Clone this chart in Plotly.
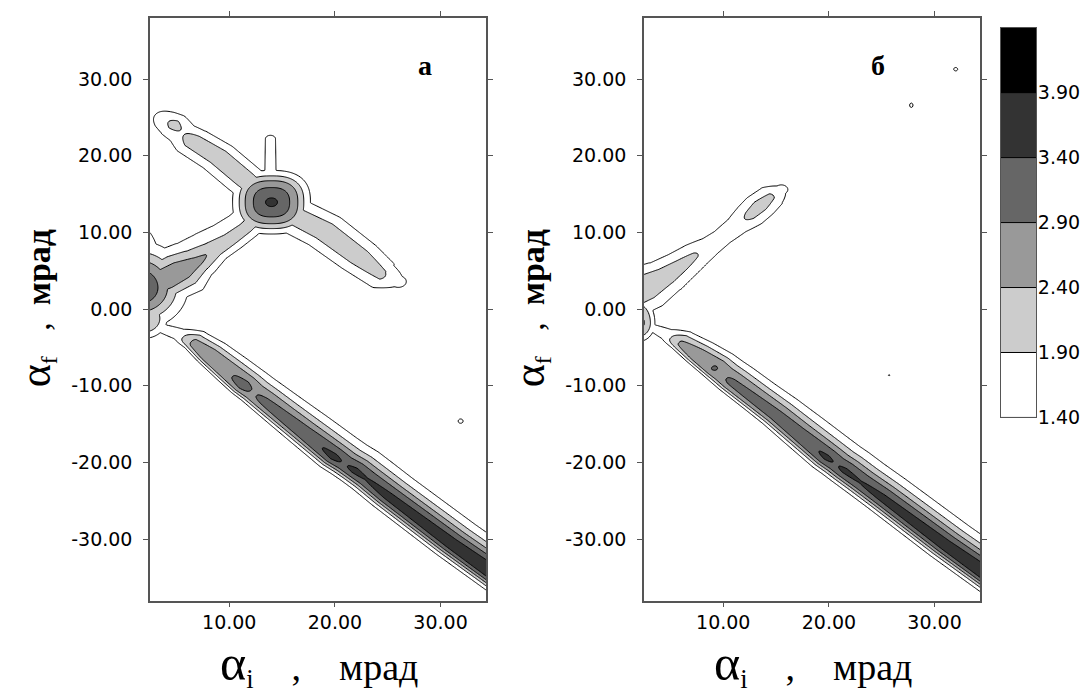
import numpy as np
import plotly.graph_objects as go

FIG_W, FIG_H = 1092, 698

# ---------------- levels / colours ----------------
LEVELS = [1.40, 1.90, 2.40, 2.90, 3.40, 3.90]
LEVEL_STEP = 0.50
BAND_GRAYS = ["#ffffff", "#ffffff", "#cccccc", "#999999", "#666666", "#333333", "#000000"]
BASE_LEVEL = 1.0
CBAR_TOP = 4.40

X_RANGE = [2.5, 34.3]
Y_RANGE = [-38.0, 38.0]
X_TICKS = [10, 20, 30]
Y_TICKS = [-30, -20, -10, 0, 10, 20, 30]
PANEL_LETTERS = ["а", "б"]
X_TITLE = ["α", "i", "мрад"]
Y_TITLE = ["α", "f", "мрад"]

# ---------------- main (specular) ridge, shared cross-section widths (18 nodes) ----------------
MAIN_S_UP = [1.1, 1.2, 1.5, 1.8, 1.98, 2.05, 2.1, 2.12, 2.18, 2.24, 2.29, 2.3, 2.3, 2.3, 2.31, 2.32, 2.33, 2.33]
MAIN_P_UP = [2.2, 2.2, 2.2, 2.2, 2.18, 2.1, 2.05, 2.0, 1.9, 1.8, 1.76, 1.76, 1.76, 1.78, 1.8, 1.8, 1.8, 1.8]
MAIN_S_LO = [0.9, 0.9, 1.0, 1.2, 1.34, 1.37, 1.38, 1.4, 1.42, 1.45, 1.47, 1.47, 1.48, 1.5, 1.52, 1.55, 1.58, 1.6]
MAIN_P_LO = [3.0, 3.0, 3.5, 3.8, 3.8, 3.6, 3.5, 3.3, 3.0, 2.8, 2.6, 2.6, 2.6, 2.6, 2.6, 2.6, 2.6, 2.6]

# panel а
A_MAIN_X = [3.6, 5.2, 6.6, 8.0, 10.0, 11.4, 12.3, 13.3, 15.0, 17.0, 19.9, 20.9, 21.9, 23.0, 25.0, 28.0, 31.0, 36.0]
A_MAIN_Y = [-2.5, -3.3, -4.3, -5.9, -8.2, -9.85, -10.8, -11.9, -13.8, -16.0, -19.2, -20.1, -21.0, -22.1, -24.3, -27.4, -30.5, -35.4]
A_MAIN_Z = [1.5, 1.62, 2.5, 2.75, 2.85, 3.02, 2.86, 2.97, 3.08, 3.22, 3.5, 3.36, 3.48, 3.41, 3.52, 3.58, 3.65, 3.82]
# panel б
B_MAIN_X = [3.6, 4.6, 5.9, 7.5, 9.2, 10.0, 10.8, 13.0, 15.0, 17.0, 19.8, 20.7, 21.5, 23.0, 25.0, 28.0, 31.0, 36.0]
B_MAIN_Y = [-2.6, -3.3, -4.3, -5.9, -7.6, -8.5, -9.4, -11.7, -13.8, -16.1, -19.3, -20.2, -21.0, -22.5, -24.5, -27.6, -30.7, -35.6]
B_MAIN_Z = [1.48, 1.6, 2.42, 2.7, 2.92, 2.85, 2.95, 3.02, 3.1, 3.22, 3.46, 3.37, 3.46, 3.41, 3.5, 3.56, 3.63, 3.8]

# ---------------- rising ridge from the left edge ----------------
A_DIAG_X = [2.0, 3.8, 5.5, 7.0, 8.5, 10.0, 11.5, 13.0, 14.0]
A_DIAG_Y = [2.6, 3.9, 5.1, 6.3, 7.8, 9.1, 10.6, 12.5, 14.0]
A_DIAG_Z = [2.7, 2.75, 2.68, 2.52, 2.3, 2.18, 2.13, 2.1, 2.1]
A_DIAG_S_UP = [2.2, 2.6, 2.8, 2.5, 2.3, 2.2, 2.1, 2.0, 1.9]
A_DIAG_P_UP = [2.0, 2.0, 2.0, 1.6, 1.25, 1.2, 1.25, 1.4, 1.5]
A_DIAG_S_LO = [2.2, 2.6, 2.7, 1.9, 1.55, 1.5, 1.45, 1.4, 1.3]
A_DIAG_P_LO = [2.0, 2.2, 2.0, 2.0, 2.0, 2.0, 2.0, 2.0, 2.0]

B_DIAG_X = [0.5, 2.5, 4.5, 6.0, 7.4, 8.8, 9.9, 11.3, 12.5, 13.5, 14.6, 15.5]
B_DIAG_Y = [1.5, 2.8, 4.3, 5.7, 7.1, 8.3, 9.4, 10.9, 12.2, 13.5, 14.8, 15.6]
B_DIAG_Z = [2.3, 2.28, 2.15, 2.05, 1.93, 1.68, 1.62, 1.72, 2.0, 2.1, 1.95, 1.5]
B_DIAG_S = [2.7, 2.7, 2.2, 1.9, 1.7, 1.6, 1.55, 1.5, 1.6, 1.6, 1.5, 1.3]

# ---------------- panel а: crossing ridge through the junction ----------------
A_UL_X = [3.0, 3.9, 4.75, 5.6, 6.5, 9.0, 11.5, 14.0]
A_UL_Y = [25.6, 24.8, 24.1, 23.0, 22.0, 19.9, 17.0, 14.0]
A_UL_Z = [1.35, 1.78, 2.05, 1.84, 2.15, 2.22, 2.22, 2.1]
A_UL_S_UP = [1.4, 1.45, 1.5, 1.6, 1.7, 1.75, 1.75, 1.7]
A_UL_S_LO = [1.5, 1.6, 1.7, 1.8, 1.9, 1.95, 1.95, 1.8]

A_LR_X = [14.0, 16.4, 19.0, 22.3, 24.5, 26.0]
A_LR_Y = [14.0, 12.0, 10.2, 6.8, 4.4, 3.6]
A_LR_Z = [2.1, 2.15, 2.2, 2.17, 1.98, 1.5]
A_LR_S = [2.2, 2.2, 2.2, 2.1, 1.9, 1.6]

A_SPIKE_X = [13.9, 13.9]
A_SPIKE_Y = [16.5, 22.2]
A_SPIKE_Z = [1.6, 1.55]

A_JUNCTION_XY = [14.0, 13.95]
A_JUNCTION_Z = [3.10, 3.55]          # plateau level, summit level
A_JUNCTION_SIZE = [3.2, 3.6, 0.9]    # plateau half-size x, y; summit radius

# ---------------- isolated spots: x, y, level, sx, sy(up), sy(down), exponent ----------------
A_SPOT_X = [1.5, 1.5, 2.0, 31.9]
A_SPOT_Y = [2.8, 4.0, -1.2, -14.6]
A_SPOT_Z = [3.3, 1.8, 2.3, 1.5]
A_SPOT_SX = [3.6, 2.5, 2.0, 0.5]
A_SPOT_SY_UP = [4.75, 8.2, 2.45, 0.6]
A_SPOT_SY_LO = [4.25, 4.0, 2.45, 0.6]
A_SPOT_P = [2.3, 2.0, 3.0, 2.0]

B_SPOT_X = [2.0, 27.8, 32.0, 25.7]
B_SPOT_Y = [-1.8, 26.6, 31.3, -8.6]
B_SPOT_Z = [2.48, 1.6, 1.6, 1.45]
B_SPOT_SX = [1.4, 0.25, 0.3, 0.25]
B_SPOT_SY_UP = [3.0, 0.45, 0.35, 0.25]
B_SPOT_SY_LO = [2.2, 0.45, 0.35, 0.25]
B_SPOT_P = [3.0, 2.0, 2.0, 2.0]

# ---------------- grid ----------------
GX = np.arange(X_RANGE[0], X_RANGE[1] + 0.05, 0.1)
GY = np.linspace(Y_RANGE[0], Y_RANGE[1], 609)
X, Y = np.meshgrid(GX, GY)


def ridge(xs, ys, zs, s_up, p_up, s_lo, p_lo):
    n = len(xs)
    as_arr = lambda v: np.asarray(v if np.ndim(v) else [v] * n, float)
    xs, ys, zs = as_arr(xs), as_arr(ys), as_arr(zs)
    src = {"z": zs, "su": as_arr(s_up), "pu": as_arr(p_up), "sl": as_arr(s_lo), "pl": as_arr(p_lo)}
    best = np.full(X.shape, np.inf)
    side = np.zeros(X.shape)
    par = {k: np.zeros(X.shape) for k in src}
    for i in range(n - 1):
        vx, vy = xs[i + 1] - xs[i], ys[i + 1] - ys[i]
        t = np.clip(((X - xs[i]) * vx + (Y - ys[i]) * vy) / (vx * vx + vy * vy), 0, 1)
        dx = X - (xs[i] + t * vx)
        dy = Y - (ys[i] + t * vy)
        d = np.hypot(dx, dy)
        m = d < best
        best = np.where(m, d, best)
        side = np.where(m, vx * dy - vy * dx, side)
        for k, arr in src.items():
            par[k] = np.where(m, arr[i] + t * (arr[i + 1] - arr[i]), par[k])
    up = side >= 0
    s = np.where(up, par["su"], par["sl"])
    p = np.where(up, par["pu"], par["pl"])
    return (par["z"] - BASE_LEVEL) * np.exp(-(best / s) ** p)


def spots(xs, ys, zs, sx, sy_up, sy_lo, ps):
    out = np.zeros(X.shape)
    for x0, y0, z0, a, bu, bl, p in zip(xs, ys, zs, sx, sy_up, sy_lo, ps):
        b = np.where(Y >= y0, bu, bl)
        r = np.hypot((X - x0) / a, (Y - y0) / b)
        out = np.maximum(out, (z0 - BASE_LEVEL) * np.exp(-r ** p))
    return out


def junction(xy, zz, size):
    dx = np.abs(X - xy[0]) / size[0]
    dy = np.abs(Y - xy[1]) / size[1]
    r = (dx ** 2.6 + dy ** 2.6) ** (1 / 2.6)
    plateau = (zz[0] - BASE_LEVEL) * np.exp(-r ** 3.6)
    summit = (zz[1] - zz[0]) * np.exp(-((X - xy[0]) ** 2 + (Y - xy[1]) ** 2) / size[2] ** 2)
    return plateau + summit


feat_a = [
    ridge(A_MAIN_X, A_MAIN_Y, A_MAIN_Z, MAIN_S_UP, MAIN_P_UP, MAIN_S_LO, MAIN_P_LO),
    ridge(A_DIAG_X, A_DIAG_Y, A_DIAG_Z, A_DIAG_S_UP, A_DIAG_P_UP, A_DIAG_S_LO, A_DIAG_P_LO),
    ridge(A_UL_X, A_UL_Y, A_UL_Z, A_UL_S_UP, 2.0, A_UL_S_LO, 2.0),
    ridge(A_LR_X, A_LR_Y, A_LR_Z, A_LR_S, 2.0, A_LR_S, 2.0),
    ridge(A_SPIKE_X, A_SPIKE_Y, A_SPIKE_Z, 0.85, 2.0, 0.85, 2.0),
    junction(A_JUNCTION_XY, A_JUNCTION_Z, A_JUNCTION_SIZE),
    spots(A_SPOT_X, A_SPOT_Y, A_SPOT_Z, A_SPOT_SX, A_SPOT_SY_UP, A_SPOT_SY_LO, A_SPOT_P),
]
feat_b = [
    ridge(B_MAIN_X, B_MAIN_Y, B_MAIN_Z, MAIN_S_UP, MAIN_P_UP, MAIN_S_LO, MAIN_P_LO),
    ridge(B_DIAG_X, B_DIAG_Y, B_DIAG_Z, B_DIAG_S, 2.0, B_DIAG_S, 2.0),
    spots(B_SPOT_X, B_SPOT_Y, B_SPOT_Z, B_SPOT_SX, B_SPOT_SY_UP, B_SPOT_SY_LO, B_SPOT_P),
]
Z_A = np.round(BASE_LEVEL + np.max(feat_a, axis=0), 3)
Z_B = np.round(BASE_LEVEL + np.max(feat_b, axis=0), 3)

# ---------------- figure ----------------
n_b = len(BAND_GRAYS)
COLORSCALE = [[i / (n_b - 1), c] for i, c in enumerate(BAND_GRAYS)]
CONTOURS = dict(start=LEVELS[0], end=LEVELS[-1], size=LEVEL_STEP, coloring="fill", showlines=True)


def contour(x, y, z, xa, ya):
    return go.Contour(
        x=x, y=y, z=z, xaxis=xa, yaxis=ya,
        autocontour=False, contours=CONTOURS,
        colorscale=COLORSCALE, zauto=False,
        zmin=LEVELS[0] - LEVEL_STEP / 2, zmax=LEVELS[-1] + LEVEL_STEP / 2,
        line=dict(color="black", width=1, smoothing=1),
        showscale=False, hoverinfo="skip",
    )


CB_Y = np.linspace(LEVELS[0], CBAR_TOP, 61)
CB_Z = np.column_stack([CB_Y, CB_Y])

fig = go.Figure()
fig.add_trace(contour(GX, GY, Z_A, "x", "y"))
fig.add_trace(contour(GX, GY, Z_B, "x2", "y2"))
fig.add_trace(contour([0, 1], CB_Y, CB_Z, "x3", "y3"))


def px_x(p):
    return p / FIG_W


def px_y(p):
    return 1 - p / FIG_H


PANEL_PX = [(142, 478), (636, 972)]
TOP_PX, BOTTOM_PX = 10, 602
CB_PX = (993, 1028, 20, 416)

TICK_FONT = dict(family="DejaVu Sans, Arial, sans-serif", size=19, color="black")
AX_COMMON = dict(showgrid=False, zeroline=False, showline=True, linecolor="#555555", linewidth=1.5,
                 mirror="ticks", ticks="outside", ticklen=5, tickwidth=1, tickcolor="#555555",
                 tickfont=TICK_FONT)

layout = dict(
    width=FIG_W, height=FIG_H, margin=dict(l=0, r=0, t=0, b=0),
    paper_bgcolor="white", plot_bgcolor="white", showlegend=False,
)
for i, (l, r) in enumerate(PANEL_PX):
    sfx = "" if i == 0 else str(i + 1)
    layout["xaxis" + sfx] = dict(
        domain=[px_x(l), px_x(r)], range=X_RANGE, anchor="y" + sfx,
        tickvals=X_TICKS, ticktext=["%.2f" % v for v in X_TICKS], ticklabelstandoff=-1, **AX_COMMON)
    layout["yaxis" + sfx] = dict(
        domain=[px_y(BOTTOM_PX), px_y(TOP_PX)], range=Y_RANGE, anchor="x" + sfx,
        tickvals=Y_TICKS, ticktext=["%.2f" % v for v in Y_TICKS], ticklabelstandoff=7, **AX_COMMON)
layout["xaxis3"] = dict(domain=[px_x(CB_PX[0]), px_x(CB_PX[1])], range=[0, 1], anchor="y3",
                        showgrid=False, zeroline=False, showticklabels=False, ticks="",
                        showline=True, mirror=True, linecolor="#555555", linewidth=1)
layout["yaxis3"] = dict(domain=[px_y(CB_PX[3]), px_y(CB_PX[2])], range=[LEVELS[0], CBAR_TOP],
                        anchor="x3", side="right", showgrid=False, zeroline=False,
                        showline=True, mirror=True, linecolor="#555555", linewidth=1,
                        ticks="", tickvals=LEVELS, ticktext=["%.2f" % v for v in LEVELS],
                        ticklabelstandoff=-3, tickfont=TICK_FONT)
fig.update_layout(**layout)

SERIF = "Liberation Serif, Times New Roman, serif"
NB = "\u00a0"
x_title = ('<span style="font-size:50px">%s</span><sub>%s</sub>' % (X_TITLE[0], X_TITLE[1])
           + NB * 4 + "," + NB * 4 + X_TITLE[2])
y_title = ('<span style="font-size:44px">%s</span><sub>%s</sub>' % (Y_TITLE[0], Y_TITLE[1])
           + NB * 3 + "," + NB * 2 + "<b>%s</b>" % Y_TITLE[2])

annots = []
for i, (l, r) in enumerate(PANEL_PX):
    off = l - PANEL_PX[0][0]
    annots.append(dict(text=x_title, x=px_x(311 + off), y=px_y(667), font=dict(family=SERIF, size=38)))
    annots.append(dict(text=y_title, x=px_x(28 + off), y=px_y(305), textangle=-90,
                       font=dict(family=SERIF, size=34)))
annots += [
    dict(text="<b>%s</b>" % PANEL_LETTERS[0], x=px_x(417), y=px_y(58.5), font=dict(family=SERIF, size=28)),
    dict(text="<b>%s</b>" % PANEL_LETTERS[1], x=px_x(870), y=px_y(58.5), font=dict(family=SERIF, size=28)),
]
for a in annots:
    a.update(xref="paper", yref="paper", showarrow=False, xanchor="center", yanchor="middle")
    a["font"]["color"] = "black"
fig.update_layout(annotations=annots)

fig.write_html("out.html")
